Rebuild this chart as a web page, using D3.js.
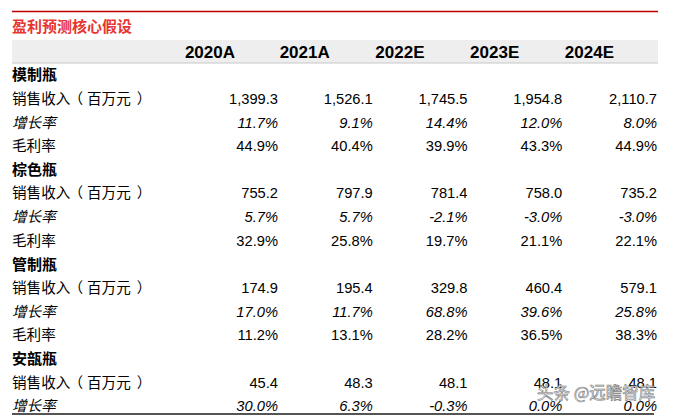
<!DOCTYPE html>
<html><head><meta charset="utf-8">
<script src="https://cdn.jsdelivr.net/npm/d3@7"></script>
<style>
html,body{margin:0;padding:0;background:#fff;}
svg{display:block;}
</style></head>
<body>
<svg id="c" width="674" height="416"></svg>
<script>
const title = "盈利预测核心假设";
const years = ["2020A","2021A","2022E","2023E","2024E"];
const groups = ["模制瓶","棕色瓶","管制瓶","安瓿瓶"];
const rowLabels = ["销售收入（百万元）","增长率","毛利率"];
const sales = [
  ["1,399.3","1,526.1","1,745.5","1,954.8","2,110.7"],
  ["755.2","797.9","781.4","758.0","735.2"],
  ["174.9","195.4","329.8","460.4","579.1"],
  ["45.4","48.3","48.1","48.1","48.1"]
];
const growth = [
  ["11.7%","9.1%","14.4%","12.0%","8.0%"],
  ["5.7%","5.7%","-2.1%","-3.0%","-3.0%"],
  ["17.0%","11.7%","68.8%","39.6%","25.8%"],
  ["30.0%","6.3%","-0.3%","0.0%","0.0%"]
];
const margin = [
  ["44.9%","40.4%","39.9%","43.3%","44.9%"],
  ["32.9%","25.8%","19.7%","21.1%","22.1%"],
  ["11.2%","13.1%","28.2%","36.5%","38.3%"],
  [null,null,null,null,null]
];
const watermark = "头条 @远瞻智库";

const svg = d3.select("#c");
const cjk = "'Liberation Sans', Arial, 'Noto Sans CJK SC', sans-serif";

const rows = [];
groups.forEach((g, gi) => {
  rows.push({type:"group", label:g});
  rows.push({type:"sales", label:rowLabels[0], vals:sales[gi]});
  rows.push({type:"growth", label:rowLabels[1], vals:growth[gi]});
  if (margin[gi][0] !== null) rows.push({type:"margin", label:rowLabels[2], vals:margin[gi]});
});

const x = d3.scaleLinear().domain([0, years.length-1]).range([278, 657]);
const y = d3.scaleLinear().domain([0, 1]).range([75, 75+23.64]);

svg.append("line").attr("x1",12).attr("x2",658).attr("y1",11.5).attr("y2",11.5)
  .attr("stroke","#c00000").attr("stroke-width",1.3);

svg.append("text").attr("x",12).attr("y",27).attr("dy","0.35em")
  .attr("font-family",cjk).attr("font-size",15).attr("font-weight","bold")
  .attr("fill","#e8352f").text(title);

svg.append("rect").attr("x",12).attr("y",40).attr("width",646).attr("height",23).attr("fill","#eeeeee");
svg.append("line").attr("x1",12).attr("x2",658).attr("y1",63).attr("y2",63)
  .attr("stroke","#c8c8c8").attr("stroke-width",1.2);

svg.selectAll("text.hdr").data(years).join("text").attr("class","hdr")
  .attr("x",(d,i)=>x(i)-43).attr("y",52).attr("dy","0.36em")
  .attr("text-anchor","end").attr("font-family",cjk).attr("font-size",17)
  .attr("font-weight","bold").attr("fill","#000").text(d=>d);

const rg = svg.selectAll("g.row").data(rows).join("g").attr("class","row")
  .attr("transform",(d,i)=>`translate(0,${y(i)})`);

const lbl = rg.append("text").attr("x",12).attr("dy","0.36em")
  .attr("font-family",cjk).attr("font-size",d=>d.type==="group"?15:14.6)
  .attr("font-weight",d=>d.type==="group"?"bold":"normal")
  .attr("font-style",d=>d.type==="growth"?"italic":"normal")
  .attr("fill","#000");

lbl.each(function(d){
  const t = d3.select(this);
  if (d.type === "sales") {
    // split around the full-width parentheses to mimic the wider spacing
    const m = d.label.match(/^(.*?)（(.*?)）$/);
    t.append("tspan").text(m[1]);
    t.append("tspan").attr("dx",-2).text("（");
    t.append("tspan").attr("dx",4).text(m[2]);
    t.append("tspan").attr("dx",6).text("）");
  } else {
    t.text(d.label);
  }
});

rg.selectAll("text.v").data(d=>d.vals?d.vals.map(v=>({v,t:d.type})):[]).join("text").attr("class","v")
  .attr("x",(d,i)=>x(i)).attr("dy","0.36em").attr("text-anchor","end")
  .attr("font-family",cjk).attr("font-size",14.7)
  .attr("font-style",d=>d.t==="growth"?"italic":"normal")
  .attr("fill","#000").text(d=>d.v);

svg.append("line").attr("x1",12).attr("x2",654).attr("y1",414).attr("y2",414)
  .attr("stroke","#555").attr("stroke-width",2);

svg.append("text").attr("x",537).attr("y",393).attr("dy","0.35em")
  .attr("font-family","'Noto Sans CJK SC', sans-serif").attr("font-size",16.5)
  .attr("fill","#ffffff").attr("fill-opacity",0.85).attr("stroke","#777").attr("stroke-width",0.6)
  .text(watermark);
</script>
</body></html>
